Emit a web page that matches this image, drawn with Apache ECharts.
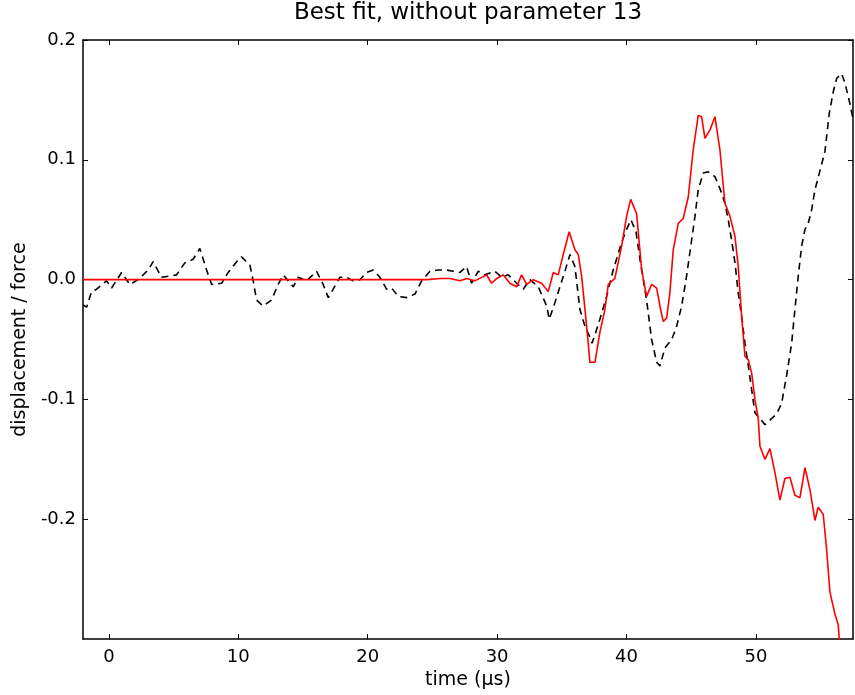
<!DOCTYPE html>
<html>
<head>
<meta charset="utf-8">
<script src="https://cdn.jsdelivr.net/npm/echarts@6/dist/echarts.min.js"></script>
<style>
html,body{margin:0;padding:0;background:#fff;}
#chart{width:855px;height:695px;}
</style>
</head>
<body>
<div id="chart"></div>
<script>
// Measured signal (black dashed)
const timeMeas = [-2.0,-1.72,-1.34,-0.95,-0.18,0.21,0.98,1.62,2.26,3.04,3.42,4.07,4.71,5.23,5.87,6.51,7.03,7.55,7.94,8.71,9.22,9.87,10.25,10.90,11.15,11.41,11.92,12.57,13.08,13.47,14.24,14.63,15.28,16.05,16.56,16.95,17.33,17.85,18.37,18.88,19.40,19.91,20.43,20.94,21.46,21.85,22.36,23.01,23.65,24.17,24.81,25.45,26.10,26.61,27.13,27.64,28.03,28.54,29.06,29.83,30.35,30.86,31.51,32.02,32.53,33.18,33.83,34.03,34.47,34.85,35.24,35.63,36.01,36.40,36.79,37.17,37.33,37.56,37.94,38.46,38.97,39.62,40.01,40.34,40.73,41.04,41.55,41.94,42.33,42.58,42.97,43.49,43.87,44.26,44.64,45.03,45.29,45.54,45.93,46.31,46.83,47.22,47.60,47.86,48.12,48.38,48.63,48.90,49.15,49.41,49.67,49.92,50.31,50.70,51.21,51.60,51.99,52.37,52.76,53.01,53.27,53.53,53.79,54.04,54.30,54.56,54.95,55.33,55.67,55.98,56.24,56.62,56.88,57.26,57.52];
const dispMeas = [-0.021,-0.023,-0.010,-0.008,-0.001,-0.007,0.006,-0.004,0.000,0.008,0.015,0.002,0.003,0.004,0.014,0.017,0.026,0.008,-0.004,-0.003,0.006,0.015,0.019,0.012,-0.001,-0.017,-0.022,-0.017,-0.004,0.004,-0.006,0.002,-0.001,0.007,-0.004,-0.015,-0.008,0.002,0.002,-0.001,0.000,0.006,0.008,0.002,-0.008,-0.007,-0.014,-0.015,-0.012,-0.001,0.007,0.008,0.008,0.007,0.006,0.011,-0.003,0.007,0.004,0.007,0.002,0.004,-0.003,-0.008,0.000,-0.006,-0.022,-0.033,-0.019,-0.006,0.007,0.021,0.011,-0.025,-0.039,-0.048,-0.053,-0.046,-0.033,-0.014,0.008,0.031,0.042,0.050,0.040,0.017,-0.017,-0.050,-0.069,-0.072,-0.057,-0.050,-0.039,-0.022,0.003,0.033,0.053,0.075,0.089,0.090,0.086,0.076,0.064,0.050,0.033,0.014,-0.011,-0.031,-0.053,-0.072,-0.092,-0.111,-0.116,-0.121,-0.116,-0.112,-0.103,-0.080,-0.053,-0.025,0.003,0.028,0.042,0.047,0.058,0.075,0.091,0.107,0.139,0.157,0.168,0.172,0.164,0.147,0.133];

// Best fit (red)
const timeFit = [-2.0,24.03,24.55,25.58,26.35,27.13,27.64,28.28,29.19,29.57,29.98,30.47,30.99,31.51,31.89,32.28,32.79,33.44,33.95,34.34,34.72,35.11,35.57,36.01,36.27,36.53,36.79,37.04,37.17,37.56,37.94,38.33,38.59,39.10,39.62,40.01,40.32,40.78,41.17,41.55,41.94,42.33,42.58,42.84,43.10,43.35,43.61,44.00,44.38,44.77,45.15,45.54,45.80,46.06,46.45,46.83,47.22,47.60,47.99,48.38,48.63,48.90,49.15,49.41,49.67,49.92,50.18,50.31,50.70,51.08,51.47,51.85,52.24,52.63,53.01,53.40,53.79,54.17,54.56,54.81,55.20,55.46,55.72,56.10,56.36,56.57];
const dispFit = [0,0,0,0.001,0.001,-0.001,0.001,-0.001,0.004,-0.003,0.001,0.004,-0.003,-0.006,0.004,-0.004,0.000,-0.003,-0.010,0.006,0.004,0.021,0.040,0.025,0.021,0.003,-0.025,-0.053,-0.069,-0.069,-0.044,-0.025,-0.004,0.001,0.028,0.053,0.067,0.055,0.008,-0.014,-0.004,-0.007,-0.022,-0.035,-0.032,-0.011,0.025,0.047,0.051,0.069,0.108,0.137,0.136,0.118,0.125,0.136,0.108,0.064,0.053,0.036,0.011,-0.031,-0.064,-0.067,-0.078,-0.100,-0.116,-0.139,-0.150,-0.141,-0.161,-0.184,-0.166,-0.165,-0.180,-0.182,-0.157,-0.175,-0.201,-0.190,-0.196,-0.225,-0.261,-0.279,-0.288,-0.320];

const xTicks = [0,10,20,30,40,50];
const yTicks = [-0.2,-0.1,0.0,0.1,0.2];

const titleText = 'Best fit, without parameter 13';
const xName = 'time (\u00b5s)';
const yName = 'displacement / force';

const FONT = 'DejaVu Sans';
const pairs = (a, b) => a.map((v, i) => [v, b[i]]);

const chart = echarts.init(document.getElementById('chart'));
const axisLine = {show: true, onZero: false, lineStyle: {color: '#000', width: 1.5}};
const tickStyle = {color: '#000', width: 1};

chart.setOption({
  animation: false,
  backgroundColor: '#fff',
  title: {
    text: titleText,
    left: 468,
    top: 2,
    padding: 0,
    textAlign: 'center',
    textStyle: {fontFamily: FONT, fontSize: 23, fontWeight: 'normal', color: '#000'}
  },
  grid: {left: 83, right: 2, top: 40, bottom: 54, containLabel: false},
  xAxis: [{
    type: 'value', min: -2, max: 57.5, position: 'bottom',
    name: xName, nameLocation: 'middle', nameGap: 30,
    nameTextStyle: {fontFamily: FONT, fontSize: 19, color: '#000'},
    axisLine: axisLine,
    axisTick: {show: true, inside: true, length: 5, lineStyle: tickStyle, customValues: xTicks},
    axisLabel: {show: true, margin: 9, fontFamily: FONT, fontSize: 18, color: '#000', customValues: xTicks, formatter: v => String(v)},
    splitLine: {show: false}
  }, {
    type: 'value', min: -2, max: 57.5, position: 'top',
    axisLine: axisLine,
    axisTick: {show: true, inside: true, length: 5, lineStyle: tickStyle, customValues: xTicks},
    axisLabel: {show: false},
    splitLine: {show: false}
  }],
  yAxis: [{
    type: 'value', min: -0.3, max: 0.2, position: 'left',
    name: yName, nameLocation: 'middle', nameGap: 53,
    nameTextStyle: {fontFamily: FONT, fontSize: 19, color: '#000'},
    axisLine: axisLine,
    axisTick: {show: true, inside: true, length: 5, lineStyle: tickStyle, customValues: yTicks},
    axisLabel: {show: true, margin: 7, fontFamily: FONT, fontSize: 18, color: '#000', customValues: yTicks, formatter: v => v.toFixed(1)},
    splitLine: {show: false}
  }, {
    type: 'value', min: -0.3, max: 0.2, position: 'right',
    axisLine: axisLine,
    axisTick: {show: true, inside: true, length: 5, lineStyle: tickStyle, customValues: yTicks},
    axisLabel: {show: false},
    splitLine: {show: false}
  }],
  series: [{
    type: 'line', name: 'measured', xAxisIndex: 0, yAxisIndex: 0,
    data: pairs(timeMeas, dispMeas),
    showSymbol: false, symbol: 'none', clip: true,
    lineStyle: {color: '#000', width: 1.6, type: [7, 5]},
    z: 2
  }, {
    type: 'line', name: 'fit', xAxisIndex: 0, yAxisIndex: 0,
    data: pairs(timeFit, dispFit),
    showSymbol: false, symbol: 'none', clip: true,
    lineStyle: {color: '#ff0000', width: 1.6},
    z: 3
  }]
});
</script>
</body>
</html>
